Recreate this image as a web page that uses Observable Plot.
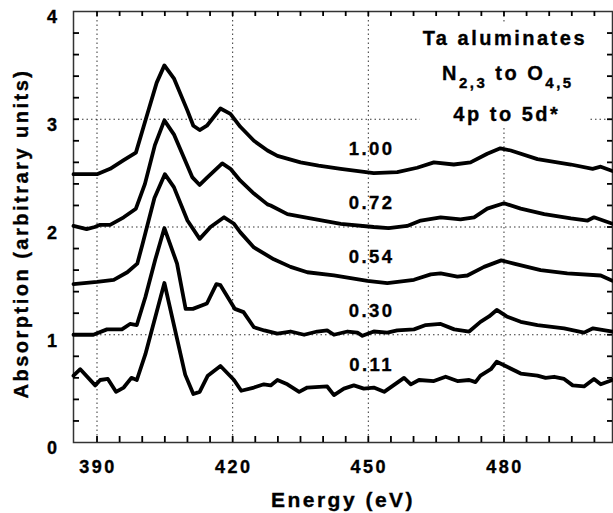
<!DOCTYPE html>
<html><head><meta charset="utf-8">
<script src="https://cdn.jsdelivr.net/npm/d3@7"></script>
<script src="https://cdn.jsdelivr.net/npm/@observablehq/plot@0.6"></script>
<style>
body{margin:0;background:#fff;overflow:hidden;}
#chart svg{font-family:"Liberation Sans",Arial,sans-serif;}
#chart svg text{letter-spacing:2.5px;stroke:#000;stroke-width:0.35px;}
</style></head><body><div id="chart"></div>
<script>
const xTicks = [390, 420, 450, 480];
const yTicks = [0, 1, 2, 3, 4];
const gridXValues = [390, 420, 450, 480];
const gridYValues = [1, 2, 3];
const concentrations = ["1.00", "0.72", "0.54", "0.30", "0.11"];
const offsets = [2.5, 2, 1.5, 1, 0.5];

const e100 = [384.8, 390.0, 392.9, 395.9, 398.6, 401.0, 403.2, 404.9, 407.0, 410.0, 411.3, 412.7, 414.3, 417.3, 419.5, 421.7, 424.7, 427.7, 429.9, 435.0, 439.0, 443.9, 451.2, 456.4, 460.8, 464.5, 468.9, 472.6, 476.3, 479.2, 481.5, 487.4, 494.8, 499.6, 501.4, 504.0];
const a100 = [2.49, 2.49, 2.54, 2.62, 2.69, 3.03, 3.34, 3.50, 3.38, 3.08, 2.94, 2.90, 2.94, 3.10, 3.05, 2.93, 2.80, 2.71, 2.66, 2.60, 2.57, 2.54, 2.50, 2.51, 2.55, 2.60, 2.58, 2.60, 2.68, 2.73, 2.71, 2.63, 2.58, 2.54, 2.56, 2.52];

const e072 = [384.8, 387.7, 389.5, 390.7, 392.9, 395.9, 398.6, 400.6, 402.8, 404.9, 407.0, 411.1, 412.7, 414.4, 417.7, 419.5, 421.7, 424.7, 427.7, 428.4, 432.1, 437.2, 443.9, 451.2, 454.5, 458.6, 461.6, 466.0, 470.4, 473.4, 476.3, 480.0, 483.7, 488.9, 494.8, 498.5, 499.9, 504.0];
const a072 = [2.01, 1.98, 2.00, 2.02, 2.02, 2.09, 2.17, 2.40, 2.76, 2.99, 2.86, 2.46, 2.39, 2.46, 2.59, 2.54, 2.43, 2.31, 2.21, 2.20, 2.12, 2.08, 2.03, 2.00, 1.99, 2.01, 2.06, 2.09, 2.07, 2.09, 2.17, 2.22, 2.17, 2.12, 2.08, 2.06, 2.09, 2.03];

const e054 = [384.8, 390.0, 393.7, 396.7, 398.9, 400.0, 402.7, 405.0, 407.0, 410.0, 412.7, 415.1, 418.1, 420.3, 421.7, 424.7, 429.1, 432.8, 436.5, 442.4, 449.8, 454.2, 460.1, 463.8, 466.0, 469.7, 471.9, 475.6, 479.4, 482.2, 488.1, 494.0, 501.4, 504.0];
const a054 = [1.47, 1.49, 1.51, 1.58, 1.66, 1.83, 2.27, 2.49, 2.37, 2.06, 1.89, 2.00, 2.09, 2.03, 1.95, 1.81, 1.70, 1.63, 1.58, 1.55, 1.50, 1.48, 1.51, 1.56, 1.57, 1.54, 1.55, 1.63, 1.69, 1.66, 1.60, 1.57, 1.55, 1.50];

const e030 = [384.8, 389.2, 392.2, 395.5, 397.3, 398.8, 400.7, 402.9, 404.9, 407.7, 409.6, 411.2, 414.3, 416.4, 417.3, 420.5, 422.4, 424.7, 427.0, 429.9, 432.8, 435.8, 438.7, 440.9, 442.4, 445.4, 447.6, 448.7, 451.2, 454.2, 456.4, 460.1, 462.7, 466.0, 469.0, 472.3, 474.8, 476.7, 478.4, 480.6, 483.7, 487.4, 493.3, 497.7, 499.7, 504.0];
const a030 = [1.00, 1.00, 1.05, 1.05, 1.10, 1.09, 1.35, 1.70, 1.99, 1.66, 1.24, 1.24, 1.29, 1.47, 1.46, 1.24, 1.21, 1.07, 1.04, 1.01, 1.03, 1.00, 1.03, 1.04, 1.00, 1.03, 1.02, 0.99, 1.03, 1.02, 1.04, 1.05, 1.09, 1.10, 1.05, 1.03, 1.12, 1.17, 1.23, 1.17, 1.12, 1.09, 1.06, 1.02, 1.06, 1.03];

const e011 = [384.8, 386.3, 389.6, 390.7, 392.4, 394.2, 395.9, 397.6, 398.8, 400.7, 404.9, 409.5, 411.3, 412.7, 414.5, 417.3, 420.3, 421.9, 424.7, 426.9, 428.4, 429.9, 432.1, 434.7, 436.5, 440.9, 442.4, 444.6, 446.8, 449.0, 451.2, 453.5, 457.9, 459.4, 461.2, 464.5, 467.1, 469.7, 472.3, 473.7, 474.8, 477.1, 478.4, 480.8, 483.7, 487.4, 489.2, 491.1, 493.3, 495.2, 497.7, 499.9, 501.4, 504.0];
const a011 = [0.62, 0.68, 0.53, 0.58, 0.59, 0.47, 0.51, 0.60, 0.58, 0.82, 1.48, 0.63, 0.45, 0.47, 0.62, 0.71, 0.58, 0.48, 0.51, 0.54, 0.53, 0.58, 0.54, 0.47, 0.51, 0.52, 0.44, 0.50, 0.53, 0.50, 0.51, 0.47, 0.60, 0.54, 0.58, 0.57, 0.61, 0.57, 0.58, 0.56, 0.62, 0.68, 0.75, 0.70, 0.64, 0.62, 0.60, 0.61, 0.59, 0.53, 0.52, 0.59, 0.54, 0.58];

const energies = [e100, e072, e054, e030, e011];
const absorbances = [a100, a072, a054, a030, a011];

const titleLines = ["Ta aluminates", "4p to 5d*"];
const xLabel = "Energy (eV)";
const yLabel = "Absorption (arbitrary units)";
const labelEnergy = 450.4;
const titleEnergy = 480.3;

const rows = concentrations.flatMap((c, i) =>
  energies[i].map((e, j) => ({series: c, energy: e, abs: absorbances[i][j]})));
const labels = concentrations.map((c, i) => ({text: c, y: offsets[i]}));

const minorX = d3.range(390, 505, 5);
const minorY = d3.range(1, 20).map(k => k / 5);

const W = 613, H = 513, ML = 73, MR = 1, MT = 11, MB = 71;
const frameW = W - ML - MR, frameH = H - MT - MB;
const tickStyle = {stroke: "#000", strokeWidth: 1.8};

const plot = Plot.plot({
  width: W, height: H,
  marginLeft: ML, marginRight: MR, marginTop: MT, marginBottom: MB,
  x: {domain: [384.8, 504]},
  y: {domain: [0, 4]},
  marks: [
    Plot.gridX(gridXValues, {stroke: "#000", strokeOpacity: 0.8, strokeDasharray: "1.5,3"}),
    Plot.gridY(gridYValues, {stroke: "#000", strokeOpacity: 0.8, strokeDasharray: "1.5,3"}),
    Plot.frame({stroke: "#333", strokeWidth: 1.5}),
    // inward minor ticks on all four sides
    Plot.tickX(minorX, {x: d => d, insetTop: frameH - 6, ...tickStyle}),
    Plot.tickX(minorX, {x: d => d, insetBottom: frameH - 5, ...tickStyle}),
    Plot.tickY(minorY, {y: d => d, insetRight: frameW - 6, ...tickStyle}),
    Plot.tickY(minorY, {y: d => d, insetLeft: frameW - 5, ...tickStyle}),
    Plot.axisX(xTicks, {tickSize: 0, tickPadding: 18, fontSize: 18, fontWeight: "bold", label: null, dx: 1, tickFormat: d => String(d)}),
    Plot.axisY(yTicks, {tickSize: 0, tickPadding: 14, fontSize: 18, fontWeight: "bold", label: null, dy: 6, tickFormat: d => String(d)}),
    Plot.line(rows, {x: "energy", y: "abs", z: "series", stroke: "#000", strokeWidth: 3.8, strokeLinejoin: "round", strokeLinecap: "round"}),
    Plot.text(labels, {x: () => labelEnergy, y: "y", text: "text", dy: -24, dx: 1.5, fontSize: 18.5, fontWeight: "bold", fill: "#000"}),
    Plot.text([xLabel], {text: d => d, frameAnchor: "bottom", lineAnchor: "bottom", dy: 64, dx: 0, fontSize: 21, fontWeight: "bold", fill: "#000"}),
    Plot.text([yLabel], {text: d => d, frameAnchor: "left", textAnchor: "middle", lineAnchor: "middle", rotate: -90, dx: -51.5, dy: 6.5, fontSize: 20, fontWeight: "bold", fill: "#000"})
  ]
});
document.getElementById("chart").appendChild(plot);

// Annotation block (title) with subscripts, positioned through the plot's scales
const sx = plot.scale("x"), sy = plot.scale("y");
const svgSel = d3.select(plot);
const cx = sx.apply(titleEnergy);
const topPx = sy.apply(4);

const g = svgSel.append("g")
  .attr("font-weight", "bold").attr("font-size", 20)
  .attr("text-anchor", "middle").attr("fill", "#000");
g.append("text").attr("x", cx).attr("y", topPx + 34).text(titleLines[0]);
const l2 = g.append("text").attr("x", cx + 3).attr("y", topPx + 69);
l2.append("tspan").text("N");
l2.append("tspan").attr("dy", 8).attr("font-size", 15).text("2,3");
l2.append("tspan").attr("dy", -8).text(" to O");
l2.append("tspan").attr("dy", 8).attr("font-size", 15).text("4,5");
g.append("text").attr("x", cx + 2).attr("y", topPx + 110).text(titleLines[1]);
const bb = g.node().getBBox();
svgSel.insert("rect", () => g.node())
  .attr("x", bb.x - 3).attr("y", bb.y - 3)
  .attr("width", bb.width + 4).attr("height", bb.height + 6)
  .attr("fill", "#fff");
</script></body></html>
